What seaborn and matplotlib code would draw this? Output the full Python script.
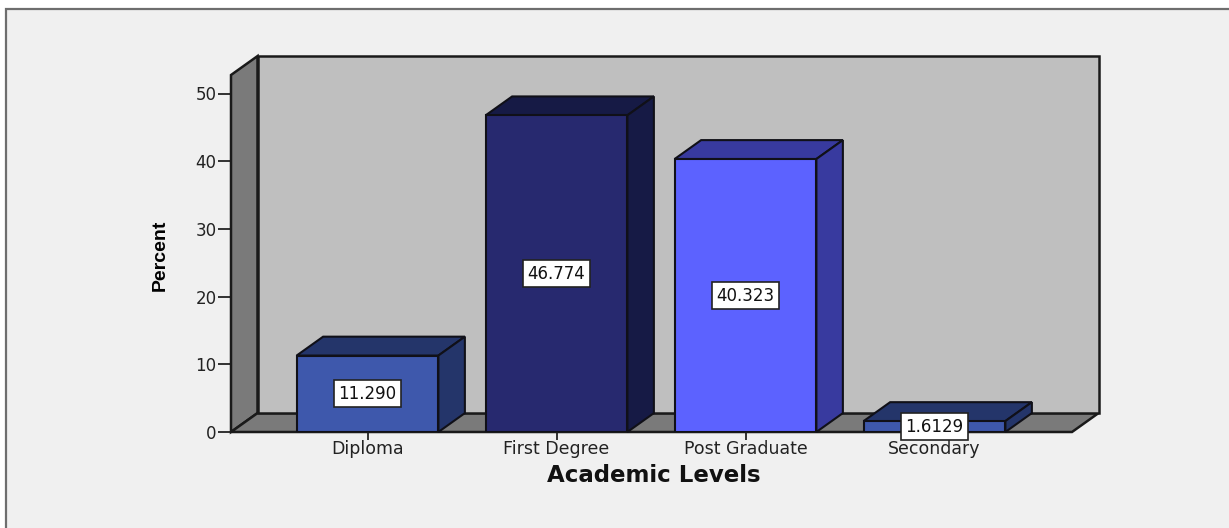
import matplotlib
matplotlib.use("Agg")
import matplotlib.pyplot as plt
from matplotlib.patches import Polygon, Rectangle
import seaborn as sns

levels = ["Diploma", "First Degree", "Post Graduate", "Secondary"]
percent = [11.290, 46.774, 40.323, 1.6129]
value_labels = ["11.290", "46.774", "40.323", "1.6129"]
y_ticks = [0, 10, 20, 30, 40, 50]
front_colors = ["#3e58ac", "#27296f", "#5c62ff", "#3e58ac"]
side_colors = ["#24356a", "#161a45", "#383a9f", "#24356a"]

sns.set_theme(style="white")
plt.rcParams["font.family"] = ["DejaVu Sans"]

W, H = 1229, 528
fig = plt.figure(figsize=(W / 100, H / 100), dpi=100, facecolor="white")
fig.patches.append(Rectangle((6 / W, -0.02), 1.02, (528 - 9) / 528 + 0.02, transform=fig.transFigure,
                             facecolor="#f0f0f0", edgecolor="#6e6e6e", linewidth=1.6, zorder=-5))

L, R, B, T = 231, 1072, 432, 75
ax = fig.add_axes([L / W, (H - B) / H, (R - L) / W, (B - T) / H])
ax.patch.set_alpha(0)

sns.barplot(x=levels, y=percent, hue=levels, palette=front_colors, width=0.75, legend=False,
            edgecolor="#101018", linewidth=1.5, saturation=1, ax=ax, zorder=4)

x0, x1 = (L - 367.5) / 189, (R - 367.5) / 189
ytop = (B - T) / 6.77
ax.set_xlim(x0, x1)
ax.set_ylim(0, ytop)
dx, dy = 26.5 / 189, 18.9 / 6.77

edge = "#1a1a1a"
ax.add_patch(Polygon([(x0, 0), (x0, ytop), (x0 + dx, ytop + dy), (x0 + dx, dy)], closed=True,
                     fc="#7a7a7a", ec=edge, lw=1.8, clip_on=False, zorder=1))
ax.add_patch(Polygon([(x0, 0), (x1, 0), (x1 + dx, dy), (x0 + dx, dy)], closed=True,
                     fc="#7a7a7a", ec=edge, lw=1.8, clip_on=False, zorder=1))
ax.add_patch(Rectangle((x0 + dx, dy), x1 - x0, ytop, fc="#bfbfbf", ec=edge, lw=1.8,
                       clip_on=False, zorder=1.5))

for bar, v, side, label in zip(ax.patches[:4], percent, side_colors, value_labels):
    a, w = bar.get_x(), bar.get_width()
    b = a + w
    ax.add_patch(Polygon([(a, v), (b, v), (b + dx, v + dy), (a + dx, v + dy)], closed=True,
                         fc=side, ec="#101018", lw=1.5, clip_on=False, zorder=3))
    ax.add_patch(Polygon([(b, 0), (b, v), (b + dx, v + dy), (b + dx, dy)], closed=True,
                         fc=side, ec="#101018", lw=1.5, clip_on=False, zorder=3))
    ax.text(a + w / 2, v / 2, label, ha="center", va="center", fontsize=12, color="#111111", zorder=8,
            bbox=dict(boxstyle="square,pad=0.28", fc="white", ec="#222222", lw=1.2))

sns.despine(ax=ax, left=True, bottom=True)
ax.set_yticks(y_ticks)
ax.set_xticks(range(len(levels)))
ax.set_xticklabels(levels)
ax.tick_params(axis="y", left=True, length=9.4, width=1.3, color="#222222", labelsize=12, labelcolor="#222222", pad=1)
ax.tick_params(axis="x", bottom=True, length=5.5, width=1.3, color="#222222", labelsize=12.5, labelcolor="#222222", pad=0.2)

ax.set_xlabel("Academic Levels", fontsize=16.5, fontweight="bold", color="#111111", va="center")
ax.xaxis.set_label_coords((654 - L) / (R - L), (B - 475) / (B - T))
ax.set_ylabel("Percent", fontsize=14, fontweight="bold", color="#000000", va="center",
              family=["Liberation Sans"])
ax.yaxis.set_label_coords((160 - L) / (R - L), (B - 255) / (B - T))

fig.savefig("out.png", dpi=100, facecolor=fig.get_facecolor())
